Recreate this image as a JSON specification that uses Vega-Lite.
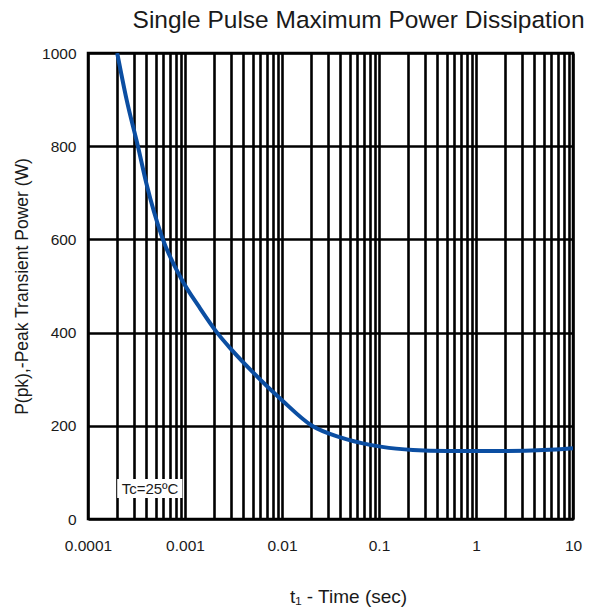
{
  "$schema": "https://vega.github.io/schema/vega-lite/v6.json",
  "width": 485,
  "height": 466,
  "autosize": {"type": "none"},
  "padding": {"left": 88, "top": 53, "right": 24, "bottom": 95},
  "background": "white",
  "config": {
    "font": "Liberation Sans",
    "view": {"stroke": "black", "strokeWidth": 2.5},
    "axis": {"gridColor": "black", "gridWidth": 2.6, "gridOpacity": 1, "domain": false, "ticks": false, "labelColor": "#1a1a1a", "titleColor": "#1a1a1a", "labelFontSize": 15.5, "titleFontWeight": "normal"}
  },
  "title": {"text": "Single Pulse Maximum Power Dissipation", "anchor": "end", "fontSize": 24.5, "fontWeight": "normal", "color": "#1a1a1a", "dx": 3, "offset": 13},
  "datasets": {
    "curve": [
      {"t": 0.0002, "p": 1000},
      {"t": 0.00025, "p": 900},
      {"t": 0.000327, "p": 800},
      {"t": 0.0004, "p": 720},
      {"t": 0.00058, "p": 605},
      {"t": 0.00093, "p": 513},
      {"t": 0.0014, "p": 455},
      {"t": 0.00214, "p": 400},
      {"t": 0.003, "p": 364},
      {"t": 0.005, "p": 315},
      {"t": 0.0075, "p": 279},
      {"t": 0.01, "p": 255},
      {"t": 0.0204, "p": 200},
      {"t": 0.04, "p": 175},
      {"t": 0.081, "p": 159},
      {"t": 0.15, "p": 151},
      {"t": 0.224, "p": 148},
      {"t": 0.5, "p": 146},
      {"t": 1, "p": 146},
      {"t": 2, "p": 146},
      {"t": 5, "p": 148},
      {"t": 10, "p": 152}
    ],
    "note": [{"t0": 0.0002, "t1": 0.00094, "p0": 45, "p1": 86, "tm": 0.000436, "pm": 65, "label": "Tc=25ºC"}]
  },
  "layer": [
    {
      "data": {"name": "curve"},
      "mark": {"type": "line", "color": "#0b4ea2", "strokeWidth": 4, "interpolate": "monotone", "clip": true},
      "encoding": {
        "x": {
          "field": "t", "type": "quantitative",
          "scale": {"type": "log", "domain": [0.0001, 10]},
          "axis": {
            "values": [0.0001,0.0002,0.0003,0.0004,0.0005,0.0006,0.0007,0.0008,0.0009,0.001,0.002,0.003,0.004,0.005,0.006,0.007,0.008,0.009,0.01,0.02,0.03,0.04,0.05,0.06,0.07,0.08,0.09,0.1,0.2,0.3,0.4,0.5,0.6,0.7,0.8,0.9,1,2,3,4,5,6,7,8,9,10],
            "labelExpr": "indexof([0.0001,0.001,0.01,0.1,1,10], datum.value) >= 0 ? toString(datum.value) : ''",
            "labelPadding": 19,
            "labelFlush": false,
            "title": "t₁ - Time (sec)",
            "titleFontSize": 19,
            "titlePadding": 34,
            "titleX": 260
          }
        },
        "y": {
          "field": "p", "type": "quantitative",
          "scale": {"domain": [0, 1000]},
          "axis": {
            "values": [0, 200, 400, 600, 800, 1000],
            "format": "d",
            "labelPadding": 12,
            "title": "P(pk),-Peak Transient Power (W)",
            "titleFontSize": 17.5,
            "titlePadding": 10,
            "titleAlign": "center",
            "titleY": 233
          }
        }
      }
    },
    {
      "data": {"name": "note"},
      "mark": {"type": "rect", "fill": "white"},
      "encoding": {
        "x": {"field": "t0", "type": "quantitative"},
        "x2": {"field": "t1"},
        "y": {"field": "p0", "type": "quantitative"},
        "y2": {"field": "p1"}
      }
    },
    {
      "data": {"name": "note"},
      "mark": {"type": "text", "fontSize": 15, "color": "#1a1a1a"},
      "encoding": {
        "x": {"field": "tm", "type": "quantitative"},
        "y": {"field": "pm", "type": "quantitative"},
        "text": {"field": "label"}
      }
    }
  ]
}
